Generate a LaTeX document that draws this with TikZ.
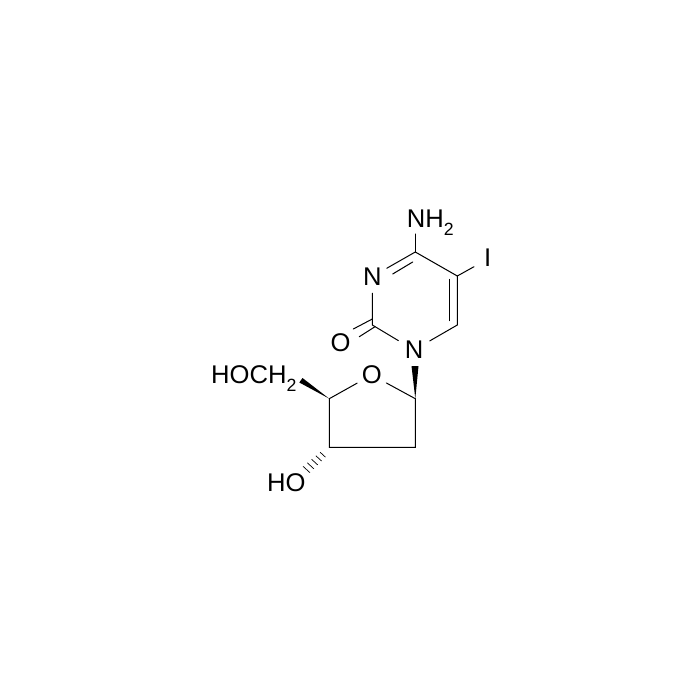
\documentclass[tikz,border=0pt]{standalone}
\usepackage{fontspec}
\setmainfont{Liberation Sans}
\usetikzlibrary{calc}
\newcommand{\subtwo}{\raisebox{-8.7pt}{\fontsize{17.7}{18}\selectfont 2}}
\tikzset{
	bond/.style = {line width = 1pt, line cap = round},
	atom/.style = {circle, inner sep = 0pt, minimum size = 33pt, font = \fontsize{25.6}{26}\selectfont},
	grp/.style = {anchor = base west, inner sep = 0pt, font = \fontsize{25.6}{26}\selectfont}
}
\begin{document}
\begin{tikzpicture}[x = 1pt, y = -1pt]
	\useasboundingbox (0,0) rectangle (700,700);

	% cytosine ring
	\coordinate (c4) at (415.3,252);
	\coordinate (c5) at (457.3,276);
	\coordinate (c6) at (457.3,325);
	\coordinate (c2) at (372.3,325);
	\node[atom] (n3) at (372.3,276.5) {N};
	\node[atom, minimum size = 36pt] (n1) at (414,350) {N};

	% sugar ring
	\coordinate (c1s) at (415.3,398.7);
	\coordinate (c2s) at (415.3,447.3);
	\coordinate (c3s) at (329.3,447.3);
	\coordinate (c4s) at (329.3,398.7);
	\node[atom] (o4s) at (371.7,375) {O};

	% substituents
	\node[atom, minimum size = 30pt] (o2) at (340.5,343) {O};
	\node[grp] (nh2) at (406.7,227.3) {NH\subtwo};
	\node[grp] (iod) at (484,266.7) {I};
	\node[grp] (ch2oh) at (211,383) {HOCH\subtwo};
	\node[grp] (oh) at (267,491.7) {HO};
	\coordinate (nh2end) at (415.3,234);
	\coordinate (iodend) at (474,266.7);

	\draw[bond] (n3)--(c2)--(n1);
	\draw[bond] (n1)--(c6)--(c5)--(c4)--(n3);
	\draw[bond] (c4)--(nh2end);
	\draw[bond] (c5)--(iodend);

	% inner lines of the double bonds
	\coordinate (d1a) at (392.7,274);
	\coordinate (d1b) at (412.7,262);
	\coordinate (d2a) at (449.7,279.3);
	\coordinate (d2b) at (449.7,320.7);
	\draw[bond] (d1a)--(d1b);
	\draw[bond] (d2a)--(d2b);

	\coordinate (co1a) at (353.3,329);
	\coordinate (co1b) at (372.3,319);
	\coordinate (co2a) at (359.3,336.7);
	\coordinate (co2b) at (375,326.7);
	\draw[bond] (co1a)--(co1b);
	\draw[bond] (co2a)--(co2b);

	\draw[bond] (o4s)--(c1s)--(c2s)--(c3s)--(c4s)--(o4s);

	% wedges
	\coordinate (w1a) at (411.5,366);
	\coordinate (w1b) at (418.5,366);
	\coordinate (w2a) at (299.3,382.5);
	\coordinate (w2b) at (302.5,378);
	\fill (c1s)--(w1a)--(w1b)--cycle;
	\fill (c4s)--(w2a)--(w2b)--cycle;

	% hashed bond
	\coordinate (hashstart) at (322.8,454.7);
	\coordinate (hashend) at (306.5,469.5);
	\foreach \t in {0,0.25,...,1}{
		\draw[line width = 0.7pt]
			($(hashstart)!\t!(hashend)+(2.7+0.8*\t,2.5+0.7*\t)$)--($(hashstart)!\t!(hashend)-(2.7+0.8*\t,2.5+0.7*\t)$);
	}
\end{tikzpicture}
\end{document}
